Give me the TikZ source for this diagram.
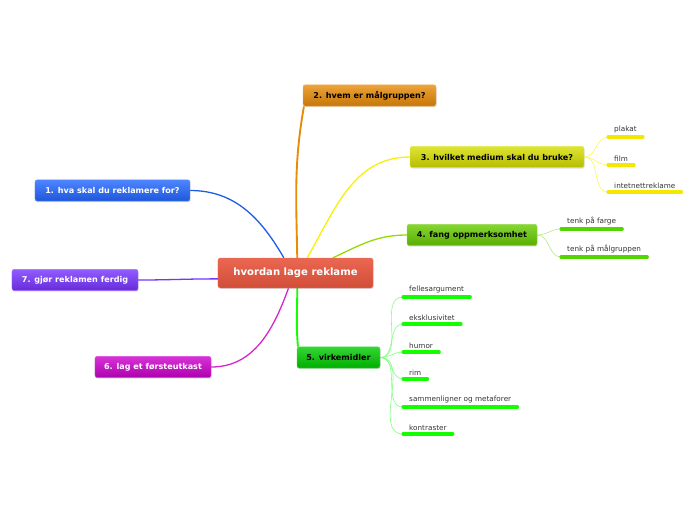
\documentclass[tikz,border=0pt]{standalone}
\usepackage{fontspec}
\setmainfont{DejaVu Sans}
\usepackage{xcolor}
\usetikzlibrary{positioning,shadows,backgrounds}
\definecolor{rootred}{RGB}{232,86,62}
\definecolor{topicorange}{RGB}{232,140,8}
\definecolor{topicyellow}{RGB}{214,222,0}
\definecolor{topiclime}{RGB}{104,204,0}
\definecolor{topicgreen}{RGB}{0,204,0}
\definecolor{topicblue}{RGB}{34,102,255}
\definecolor{topicpurple}{RGB}{119,51,255}
\definecolor{topicmagenta}{RGB}{204,0,204}

\begin{document}
\begin{tikzpicture}[
    x=0.03cm, y=-0.03cm,
    root/.style={rectangle, rounded corners=2pt, draw=rootred!80!white, top color=rootred!90!white, bottom color=rootred!90!black,
                 minimum width=4.65cm, minimum height=0.9cm, text=white,
                 font=\fontsize{8.6}{10}\selectfont\bfseries,
                 drop shadow={shadow xshift=0.6pt, shadow yshift=-0.8pt, opacity=0.25}},
    topic/.style={rectangle, rounded corners=2pt, draw=#1!70!white, top color=#1!80!white, bottom color=#1!85!black,
                  minimum height=0.64cm, inner xsep=0.2cm, text=black,
                  font=\fontsize{6.9}{8}\selectfont\bfseries,
                  drop shadow={shadow xshift=0.6pt, shadow yshift=-0.8pt, opacity=0.25}},
    leaf/.style={anchor=south west, inner xsep=0.18cm, inner ysep=0.1cm, text=black!80,
                 font=\fontsize{6.2}{7}\selectfont,
                 append after command={(\tikzlastnode.south west) edge[draw=#1, line width=2.7pt, line cap=round] (\tikzlastnode.south east)}},
    link/.style={draw=#1, line width=1.1pt},
    twig/.style={draw=#1, line width=0.5pt}
]
\useasboundingbox (0,0) rectangle (696,520);

% central topic and main branches
\node[root] (c) at (295.5,273) {hvordan lage reklame};
\node[topic=topicblue, text=white, minimum width=4.65cm] (t1) at (112.5,190.5) {1. hva skal du reklamere for?};
\node[topic=topicorange, minimum width=3.99cm] (t2) at (369.5,95.5) {2. hvem er målgruppen?};
\node[topic=topicyellow, minimum width=5.22cm] (t3) at (497,157) {3. hvilket medium skal du bruke?};
\node[topic=topiclime, minimum width=3.9cm] (t4) at (472,235) {4. fang oppmerksomhet};
\node[topic=topicgreen, minimum width=2.49cm] (t5) at (338.5,357.5) {5. virkemidler};
\node[topic=topicmagenta, text=white, minimum width=3.48cm] (t6) at (153,367) {6. lag et førsteutkast};
\node[topic=topicpurple, text=white, minimum width=3.78cm] (t7) at (75,280) {7. gjør reklamen ferdig};

% leaves
\node[leaf=yellow!90!olive] (l31) at (608,137) {plakat};
\node[leaf=yellow!90!olive] (l32) at (608,165) {film};
\node[leaf=yellow!90!olive] (l33) at (608,192) {intetnettreklame};
\node[leaf=topiclime!80!green] (l41) at (561,229) {tenk på farge};
\node[leaf=topiclime!80!green] (l42) at (561,257) {tenk på målgruppen};
\node[leaf=green!90!lime] (l51) at (403,297) {fellesargument};
\node[leaf=green!90!lime] (l52) at (403,324) {eksklusivitet};
\node[leaf=green!90!lime] (l53) at (403,352) {humor};
\node[leaf=green!90!lime] (l54) at (403,379) {rim};
\node[leaf=green!90!lime] (l55) at (403,407) {sammenligner og metaforer};
\node[leaf=green!90!lime] (l56) at (403,434) {kontraster};

\begin{scope}[on background layer]
\draw[link=topicblue!90!black] ([xshift=-10]c.north) to[out=120, in=0] (t1.east);
\draw[link=topicorange, line width=1.6pt] ([xshift=1.5]c.north) to[out=91, in=-100] ([xshift=1]t2.south west);
\draw[link=yellow!90!lime] ([xshift=10]c.north) to[out=60, in=180] (t3.west);
\draw[link=topiclime!70!yellow] ([xshift=32]c.north) to[out=25, in=180] (t4.west);
\draw[link=green!90!lime, line width=1.6pt] ([xshift=1.5]c.south) to[out=-90, in=95] ([xshift=1]t5.north west);
\draw[link=topicmagenta!80!pink] ([xshift=-6]c.south) to[out=-110, in=0] (t6.east);
\draw[link=topicpurple] ([yshift=-5]c.west) to[out=180, in=0] (t7.east);

\draw[twig=yellow!70] (t3.east) to[out=0, in=180] (l31.south west);
\draw[twig=yellow!70] (t3.east) to[out=0, in=180] (l32.south west);
\draw[twig=yellow!70] (t3.east) to[out=0, in=180] (l33.south west);
\draw[twig=topiclime!50] (t4.east) to[out=0, in=180] (l41.south west);
\draw[twig=topiclime!50] (t4.east) to[out=0, in=180] (l42.south west);
\draw[twig=green!50] (t5.east) to[out=0, in=180] (l51.south west);
\draw[twig=green!50] (t5.east) to[out=0, in=180] (l52.south west);
\draw[twig=green!50] (t5.east) to[out=0, in=180] (l53.south west);
\draw[twig=green!50] (t5.east) to[out=0, in=180] (l54.south west);
\draw[twig=green!50] (t5.east) to[out=0, in=180] (l55.south west);
\draw[twig=green!50] (t5.east) to[out=0, in=180] (l56.south west);
\end{scope}
\end{tikzpicture}
\end{document}
